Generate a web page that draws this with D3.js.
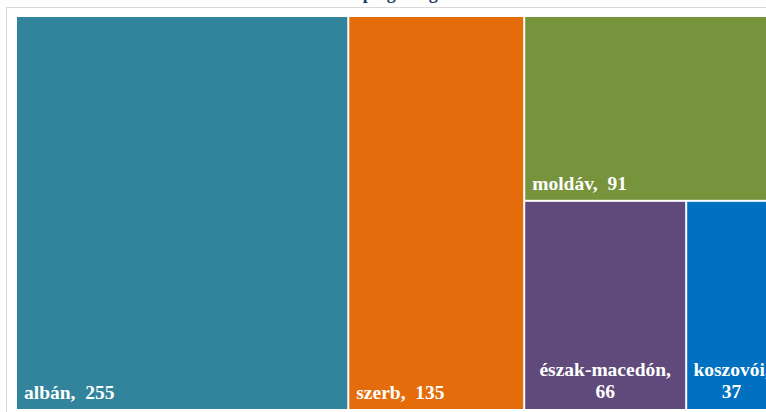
<!DOCTYPE html>
<html>
<head>
<meta charset="utf-8">
<script src="https://cdn.jsdelivr.net/npm/d3@7"></script>
<style>
  html, body { margin: 0; padding: 0; background: #fff; }
  svg { display: block; }
  .lbl { font-family: "Liberation Serif", "Times New Roman", serif; font-weight: bold; font-size: 19.5px; fill: #fff; white-space: pre; }
</style>
</head>
<body>
<svg id="chart" width="766" height="412"></svg>
<script>
// ─── Data ────────────────────────────────────────────────
const categories = ['albán', 'szerb', 'moldáv', 'észak-macedón', 'koszovói'];
const values = [255, 135, 91, 66, 37];
const colors = ['#31849B', '#E46C0A', '#77933C', '#604A7B', '#0070C0'];
// nesting of the tiles (indices into categories)
const groups = [0, 1, [2, [3, 4]]];
const title = 'Állampolgárság szerint';

// ─── Layout ──────────────────────────────────────────────
const svg = d3.select('#chart');
const area = { x: 17, y: 17, w: 759, h: 392 };

function build(g) {
  return Array.isArray(g)
    ? { children: g.map(build) }
    : { name: categories[g], value: values[g], color: colors[g] };
}

const root = d3.hierarchy({ children: groups.map(build) })
  .sum(d => d.value || 0);

d3.treemap()
  .tile(d3.treemapSliceDice)
  .size([area.w, area.h])
  .paddingInner(2)(root);

// frame + title (cut off by the top edge, as in the source image)
svg.append('rect')
  .attr('x', 6.5).attr('y', 7.5)
  .attr('width', 780).attr('height', 420)
  .attr('fill', 'none').attr('stroke', '#d9d9d9');

svg.append('text')
  .attr('x', 405).attr('y', -1)
  .attr('text-anchor', 'middle')
  .attr('font-family', '"Liberation Serif", serif')
  .attr('font-weight', 'bold').attr('font-size', 18)
  .attr('fill', '#1F3864')
  .text(title);

// ─── Tiles ───────────────────────────────────────────────
const g = svg.append('g').attr('transform', `translate(${area.x},${area.y})`);
const leaves = g.selectAll('g.leaf').data(root.leaves()).join('g').attr('class', 'leaf');

leaves.append('rect')
  .attr('x', d => d.x0).attr('y', d => d.y0)
  .attr('width', d => d.x1 - d.x0).attr('height', d => d.y1 - d.y0)
  .attr('fill', d => d.data.color);

leaves.each(function (d) {
  const el = d3.select(this);
  const w = d.x1 - d.x0;
  const one = `${d.data.name},  ${d.data.value}`;
  if (w > 170) {
    el.append('text').attr('class', 'lbl')
      .attr('x', d.x0 + 7).attr('y', d.y1 - 10)
      .text(one);
  } else {
    const cx = (d.x0 + d.x1) / 2;
    el.append('text').attr('class', 'lbl')
      .attr('x', cx).attr('y', d.y1 - 33).attr('text-anchor', 'middle')
      .text(`${d.data.name},`);
    el.append('text').attr('class', 'lbl')
      .attr('x', cx).attr('y', d.y1 - 11).attr('text-anchor', 'middle')
      .text(d.data.value);
  }
});
</script>
</body>
</html>
